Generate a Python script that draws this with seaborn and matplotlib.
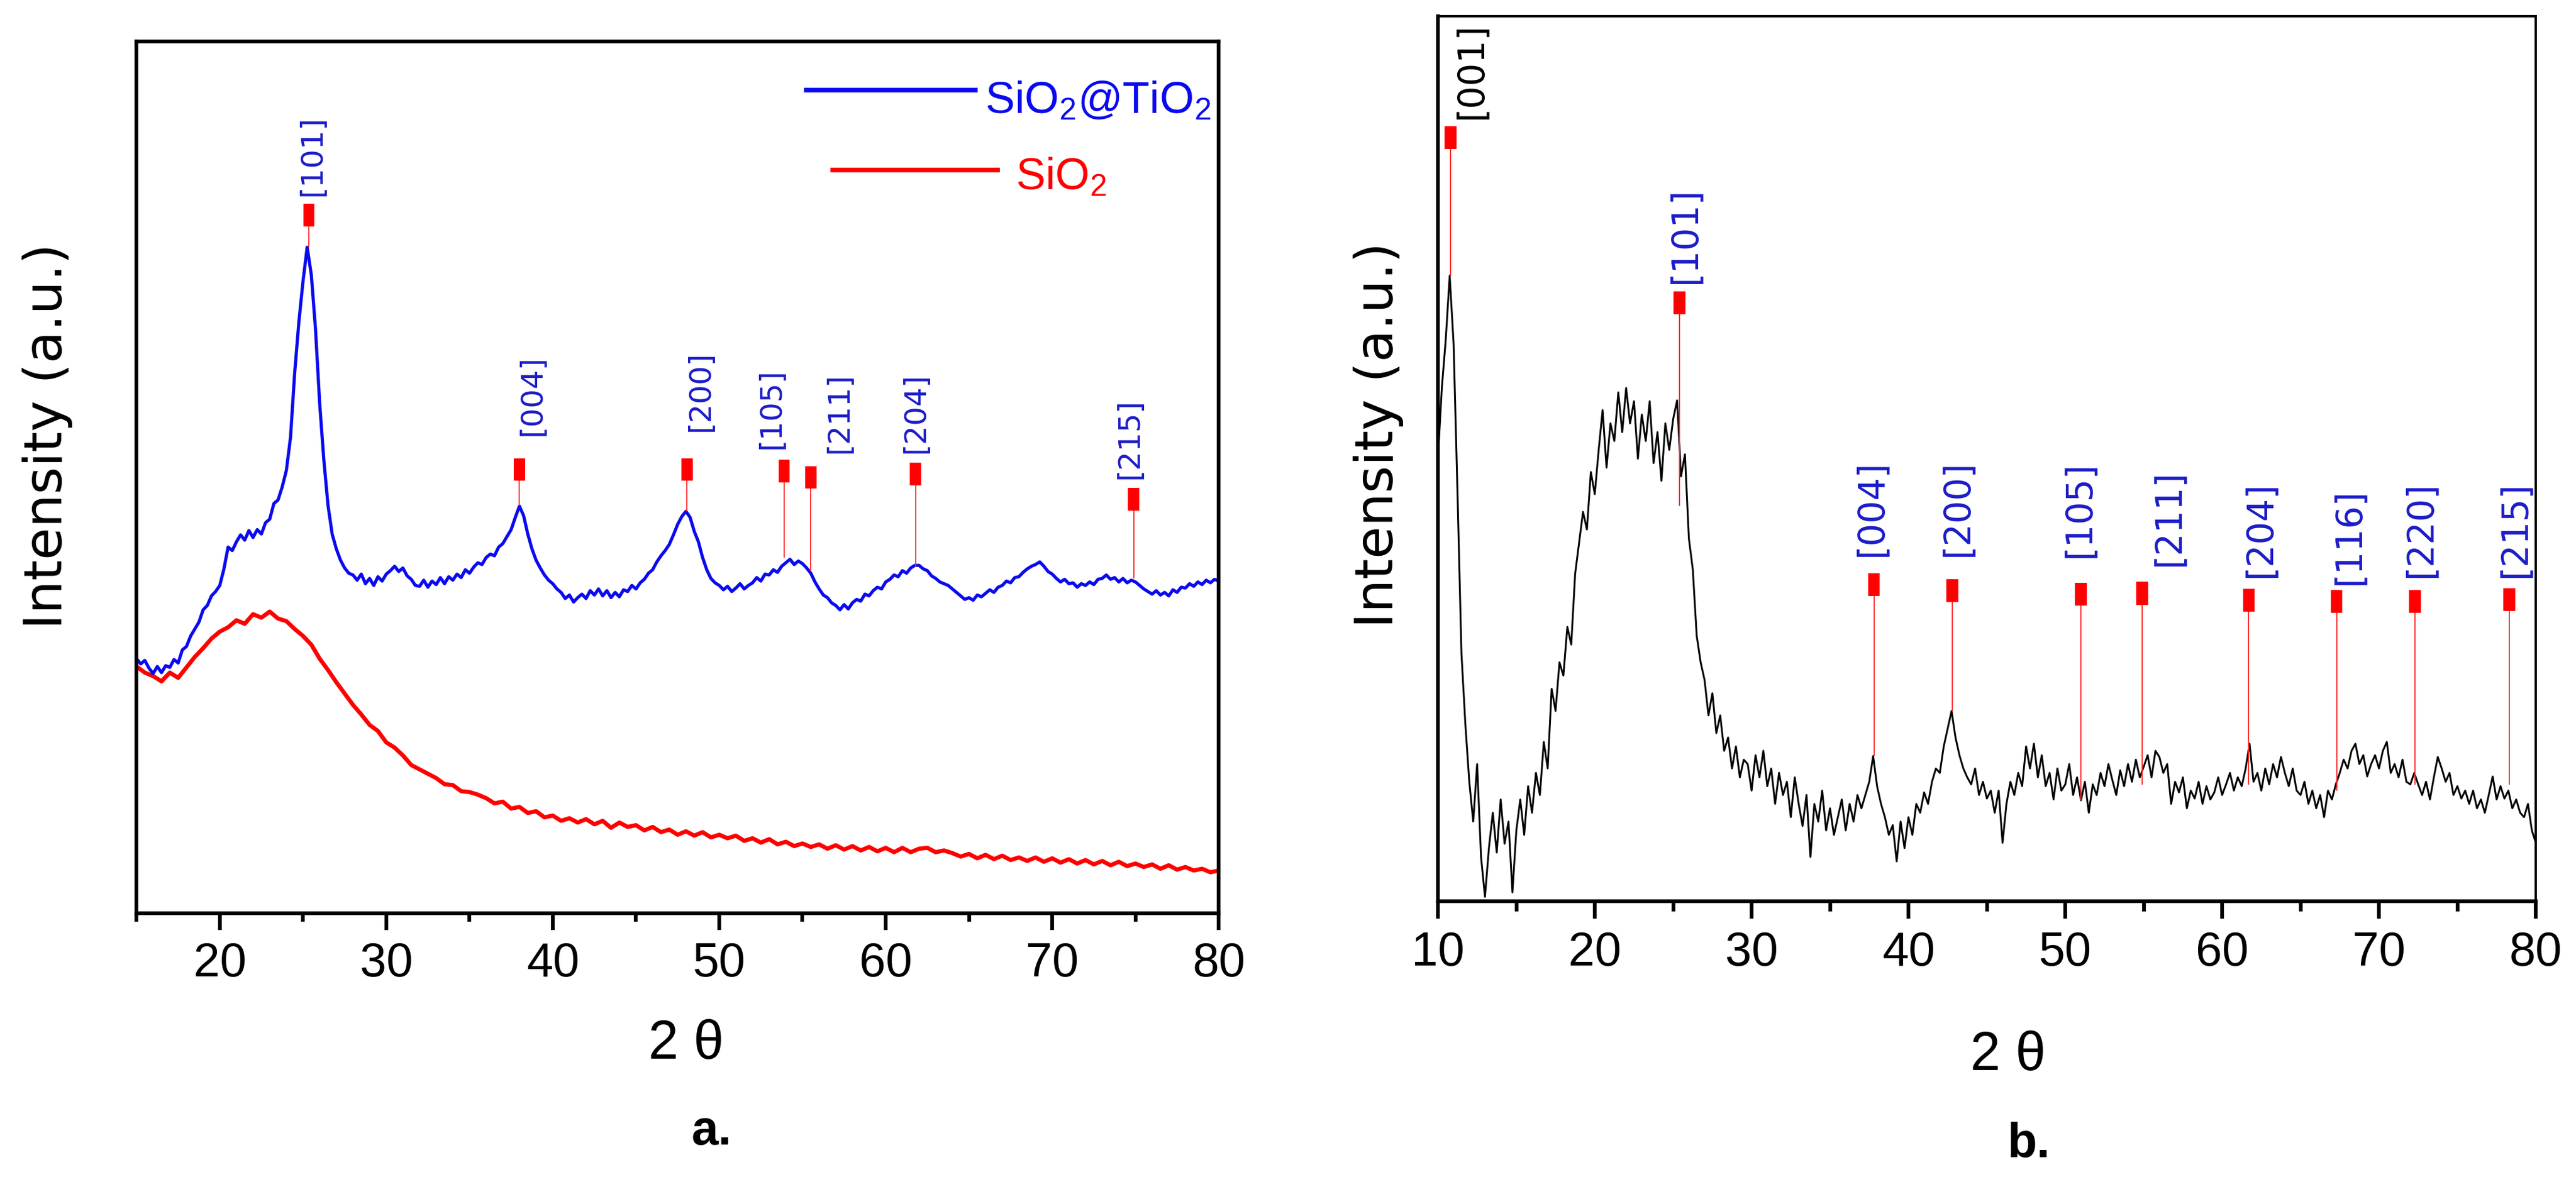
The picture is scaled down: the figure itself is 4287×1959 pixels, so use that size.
import numpy as np
import pandas as pd
import matplotlib
matplotlib.use("Agg")
import matplotlib.pyplot as plt
import seaborn as sns
from matplotlib.ticker import MultipleLocator

# ---------------- data ----------------
# panel a: SiO2@TiO2 (blue), 0.25 deg scan steps from 15 to 80
theta_blue = np.arange(15, 80.001, 0.25)
sio2_tio2 = [
    29.2, 28.6, 29.0, 28.1, 27.5, 28.3, 27.6, 28.4, 28.2, 29.1, 28.7, 30.2,
    30.6, 31.8, 32.6, 33.4, 34.8, 35.3, 36.4, 36.9, 37.6, 39.5, 42.0, 41.6,
    42.6, 43.4, 42.8, 43.9, 43.1, 44.0, 43.5, 44.8, 45.2, 47.0, 47.4, 48.9,
    50.8, 54.6, 62.0, 67.8, 72.5, 76.4, 73.2, 67.0, 58.5, 52.0, 46.8, 43.5,
    41.8, 40.5, 39.6, 39.0, 38.8, 38.2, 38.9, 37.8, 38.4, 37.6, 38.6, 38.1,
    38.9, 39.3, 39.8, 39.2, 39.6, 38.7, 38.3, 37.6, 37.5, 38.2, 37.4, 38.1,
    37.7, 38.5, 37.8, 38.6, 38.2, 38.9, 38.5, 39.4, 39.0, 39.7, 40.2, 40.0,
    40.8, 41.2, 41.0, 42.0, 42.4, 43.2, 44.0, 45.4, 46.7, 45.6, 43.5, 41.8,
    40.5, 39.6, 38.8, 38.2, 37.8, 37.2, 36.8, 36.1, 36.5, 35.7, 36.2, 36.6,
    36.1, 37.0, 36.5, 37.2, 36.4, 37.0, 36.2, 36.8, 36.3, 37.1, 36.9, 37.6,
    37.2, 37.9, 38.3, 39.0, 39.4, 40.3, 41.0, 41.6, 42.3, 43.4, 44.6, 45.5,
    46.1, 45.4, 43.8, 42.6, 40.8, 39.4, 38.4, 37.9, 37.6, 37.1, 37.5, 36.9,
    37.3, 37.8, 37.2, 37.6, 37.9, 38.5, 38.1, 38.9, 38.8, 39.4, 39.1, 39.8,
    40.2, 40.6, 40.0, 40.4, 40.1, 39.6, 39.0, 38.0, 37.2, 36.5, 36.2, 35.6,
    35.3, 34.8, 35.4, 34.9, 35.6, 36.0, 35.8, 36.6, 36.4, 37.0, 37.4, 37.2,
    38.0, 38.3, 38.8, 38.6, 39.3, 39.0, 39.6, 39.9, 39.9, 39.5, 39.3, 38.7,
    38.4, 38.0, 37.8, 37.6, 37.2, 36.8, 36.4, 36.0, 36.2, 35.9, 36.5, 36.3,
    36.7, 37.1, 36.8, 37.4, 37.6, 38.1, 37.9, 38.5, 38.6, 39.1, 39.5, 39.8,
    40.0, 40.3, 39.8, 39.2, 38.9, 38.4, 38.0, 38.3, 37.8, 37.9, 37.4, 37.8,
    37.6, 38.0, 37.7, 38.3, 38.4, 38.8, 38.3, 38.5, 38.0, 38.4, 37.9, 38.2,
    38.0, 37.6, 37.2, 36.9, 36.6, 37.0, 36.5, 36.8, 36.4, 37.1, 36.8, 37.4,
    37.3, 37.8, 37.5, 38.0, 37.7, 38.2, 37.9, 38.3, 38.1,
]

# panel a: SiO2 (red), 0.5 deg steps
theta_red = np.arange(15, 80.001, 0.5)
sio2 = [
    28.3, 27.6, 27.2, 26.6, 27.6, 27.0, 28.2, 29.4, 30.4, 31.5, 32.3, 32.8,
    33.6, 33.2, 34.3, 33.9, 34.6, 33.8, 33.5, 32.6, 31.8, 30.8, 29.2, 27.9,
    26.5, 25.2, 23.9, 22.8, 21.6, 20.9, 19.6, 19.0, 18.1, 17.0, 16.5, 16.0,
    15.5, 14.8, 14.7, 14.0, 13.9, 13.6, 13.2, 12.6, 12.8, 12.0, 12.2, 11.5,
    11.7, 11.0, 11.2, 10.6, 10.9, 10.4, 10.8, 10.2, 10.6, 9.8, 10.4, 9.9,
    10.1, 9.5, 9.9, 9.3, 9.6, 9.0, 9.4, 8.9, 9.3, 8.7, 9.0, 8.6,
    8.9, 8.3, 8.6, 8.1, 8.5, 7.9, 8.2, 7.7, 8.0, 7.6, 7.9, 7.4,
    7.8, 7.3, 7.7, 7.2, 7.6, 7.1, 7.5, 7.0, 7.5, 7.0, 7.4, 7.5,
    7.0, 7.2, 6.9, 6.5, 6.8, 6.3, 6.7, 6.2, 6.6, 6.1, 6.4, 6.0,
    6.4, 5.9, 6.3, 5.8, 6.2, 5.7, 6.1, 5.6, 6.0, 5.5, 5.9, 5.4,
    5.7, 5.3, 5.6, 5.1, 5.5, 5.0, 5.3, 4.9, 5.1, 4.7, 4.9,
]

# panel b: sample (black), 0.25 deg steps from 10 to 80
theta_black = np.arange(10, 80.001, 0.25)
sample_b = [
    50.0, 58.0, 63.5, 70.7, 63.0, 46.0, 28.0, 20.0, 13.5, 9.0, 15.5, 5.0,
    0.5, 6.0, 10.0, 5.5, 11.5, 6.5, 9.0, 1.0, 8.0, 11.5, 7.5, 13.0,
    10.0, 14.5, 12.0, 18.0, 15.0, 24.0, 21.5, 27.0, 25.5, 31.0, 29.0, 37.0,
    40.5, 44.0, 42.0, 48.5, 46.0, 51.0, 55.5, 49.0, 54.0, 52.0, 57.5, 53.0,
    58.0, 54.0, 56.5, 50.0, 55.0, 52.0, 56.5, 49.5, 53.0, 47.5, 54.0, 51.0,
    54.5, 56.6, 48.0, 50.5, 41.0, 37.5, 30.0, 27.0, 25.0, 21.0, 23.5, 19.0,
    21.0, 17.0, 18.5, 15.0, 17.5, 14.0, 16.0, 15.5, 12.5, 16.5, 14.0, 17.0,
    13.0, 15.0, 11.0, 14.5, 12.0, 13.5, 9.5, 14.0, 11.0, 8.5, 12.0, 5.0,
    11.0, 9.0, 12.5, 8.0, 10.5, 7.5, 9.5, 11.5, 8.0, 11.0, 9.0, 12.0,
    10.5, 12.0, 13.5, 16.4, 13.0, 11.0, 9.5, 7.5, 8.6, 4.5, 9.0, 6.0,
    9.5, 7.5, 11.0, 10.0, 12.3, 11.0, 13.5, 15.0, 14.5, 17.5, 19.5, 21.5,
    18.5, 16.5, 15.0, 14.0, 13.2, 15.0, 12.0, 13.5, 11.6, 12.5, 10.0, 12.5,
    6.6, 11.0, 13.5, 12.0, 14.5, 13.0, 17.5, 15.0, 17.8, 14.0, 16.5, 13.0,
    14.5, 11.5, 15.0, 12.5, 13.2, 15.5, 12.0, 14.0, 11.4, 13.5, 10.0, 13.2,
    12.0, 14.5, 13.0, 15.5, 13.7, 12.0, 14.8, 13.0, 15.5, 13.5, 16.0, 14.0,
    15.2, 16.5, 14.0, 17.0, 16.3, 14.5, 15.5, 11.0, 13.5, 12.3, 14.0, 10.5,
    12.5, 11.6, 13.5, 11.0, 13.0, 11.5, 12.3, 14.0, 12.0, 13.2, 14.5, 12.5,
    14.0, 13.0, 15.0, 17.8, 13.5, 14.5, 12.5, 15.0, 13.2, 15.5, 14.0, 16.3,
    14.5, 13.0, 15.0, 12.5, 12.0, 13.5, 11.0, 12.5, 10.5, 12.0, 9.5, 12.5,
    11.5, 13.2, 14.5, 16.0, 15.0, 17.0, 17.8, 15.5, 16.5, 14.1, 15.5, 16.5,
    15.0, 17.0, 18.0, 14.5, 15.5, 14.0, 16.0, 13.5, 13.2, 14.5, 13.2, 12.0,
    13.5, 11.5, 14.0, 16.3, 15.0, 13.5, 14.5, 12.0, 13.0, 11.6, 12.5, 11.0,
    12.5, 10.5, 11.5, 10.0, 12.0, 14.1, 11.5, 13.0, 11.6, 12.5, 10.5, 11.5,
    10.0, 9.5, 11.0, 8.0, 6.6,
]

# reflections, panel a
hkl_a = ["[101]", "[004]", "[200]", "[105]", "[211]", "[204]", "[215]"]
peak_a = [25.35, 38.0, 48.06, 53.9, 55.5, 61.8, 74.9]
stick_low_a = [76.4, 46.7, 46.1, 40.8, 39.3, 39.7, 38.4]
mark_top_a = [81.4, 52.2, 52.2, 52.0, 51.3, 51.7, 48.8]

# reflections, panel b
hkl_b = ["[001]", "[101]", "[004]", "[200]", "[105]", "[211]",
         "[204]", "[116]", "[220]", "[215]"]
peak_b = [10.8, 25.4, 37.8, 42.8, 51.0, 54.9, 61.7, 67.3, 72.3, 78.3]
stick_low_b = [70.7, 44.7, 16.4, 21.5, 11.4, 13.2, 13.2, 12.5, 13.2, 13.2]
mark_top_b = [87.6, 68.9, 37.1, 36.4, 36.0, 36.1, 35.3, 35.2, 35.2, 35.4]

# label placement (offset from stick in deg, bottom of text)
label_dx_a = [0.2, 0.75, 0.8, -0.75, 1.7, 0.0, -0.25]
label_y_a = [82.3, 54.8, 55.3, 53.3, 52.8, 52.8, 49.8]
label_dx_b = [1.34, 0.37, -0.16, 0.32, -0.1, 1.7, 0.75, 0.8, 0.37, 0.37]
label_y_b = [88.4, 69.8, 39.0, 39.0, 38.8, 37.9, 36.6, 35.8, 36.6, 36.6]

# ---------------- style ----------------
sns.set_theme(style="white")
plt.rcParams['font.family'] = ['Liberation Sans', 'DejaVu Sans']
plt.rcParams['mathtext.fontset'] = 'custom'
plt.rcParams['mathtext.rm'] = 'Liberation Sans'
plt.rcParams['mathtext.it'] = 'Liberation Sans:italic'
plt.rcParams['mathtext.bf'] = 'Liberation Sans:bold'
plt.rcParams['text.color'] = 'black'
plt.rcParams['axes.labelcolor'] = 'black'
plt.rcParams['xtick.color'] = 'black'
plt.rcParams['xtick.labelcolor'] = 'black'

BLUE = "#0a0af0"
LBLUE = "#1c1cc8"
RED = "#ff0000"

fig = plt.figure(figsize=(42.87, 19.59), dpi=100)
ax_a = fig.add_axes([0.0530, 0.2241, 0.4201, 0.7407])
ax_b = fig.add_axes([0.5582, 0.2343, 0.4262, 0.7519])

df_blue = pd.DataFrame({"two_theta": theta_blue, "I": sio2_tio2})
df_red = pd.DataFrame({"two_theta": theta_red, "I": sio2})
df_black = pd.DataFrame({"two_theta": theta_black, "I": sample_b})

sns.lineplot(data=df_red, x="two_theta", y="I", ax=ax_a, color=RED,
             lw=5.0, estimator=None, sort=False)
sns.lineplot(data=df_blue, x="two_theta", y="I", ax=ax_a, color=BLUE,
             lw=3.8, estimator=None, sort=False)
sns.lineplot(data=df_black, x="two_theta", y="I", ax=ax_b, color="black",
             lw=2.2, estimator=None, sort=False)


def draw_refs(ax, peaks, lows, tops, labels, dxs, ys, mark_w, fsize, colors):
    mark_h = 2.6
    bottoms = [t - mark_h for t in tops]
    ax.vlines(peaks, lows, bottoms, color="#ff3030", lw=1.4, zorder=3)
    ax.bar(peaks, [mark_h] * len(peaks), width=mark_w, bottom=bottoms,
           color=RED, linewidth=0, zorder=4)
    for p, lab, dx, y, c in zip(peaks, labels, dxs, ys, colors):
        ax.text(p + dx, y, lab, rotation=90, ha="center", va="bottom",
                fontsize=fsize, color=c, family="DejaVu Sans")


draw_refs(ax_a, peak_a, stick_low_a, mark_top_a, hkl_a, label_dx_a,
          label_y_a, 0.68, 36, [LBLUE] * len(hkl_a))
draw_refs(ax_b, peak_b, stick_low_b, mark_top_b, hkl_b, label_dx_b,
          label_y_b, 0.75, 43, ["black"] + [LBLUE] * (len(hkl_b) - 1))

# hand-made legend, panel a
ax_a.plot([0.617, 0.777], [0.944, 0.944], transform=ax_a.transAxes,
          color=BLUE, lw=5.5, solid_capstyle="butt")
ax_a.text(0.784, 0.918, "SiO$_2$@TiO$_2$", transform=ax_a.transAxes,
          color=BLUE, fontsize=53, va="baseline", ha="left")
ax_a.plot([0.641, 0.798], [0.8525, 0.8525], transform=ax_a.transAxes,
          color=RED, lw=5.5, solid_capstyle="butt")
ax_a.text(0.812, 0.830, "SiO$_2$", transform=ax_a.transAxes,
          color=RED, fontsize=53, va="baseline", ha="left")

# axes cosmetics
for ax, lo, maj_len, min_len in [(ax_a, 15, 20, 10), (ax_b, 10, 21, 12)]:
    ax.set_xlim(lo, 80)
    ax.set_ylim(0, 100)
    ax.set_yticks([])
    ax.xaxis.set_major_locator(MultipleLocator(10))
    ax.xaxis.set_minor_locator(MultipleLocator(5))
    ax.tick_params(axis="x", which="major", direction="out", length=maj_len,
                   width=4.5, labelsize=57, pad=14, color="black",
                   labelcolor="black", bottom=True)
    ax.tick_params(axis="x", which="minor", direction="out", length=min_len,
                   width=4.5, color="black", bottom=True)
    ax.set_ylabel("Intensity (a.u.)", fontsize=63, family="DejaVu Sans",
                  color="black")
    ax.set_xlabel("2 θ", fontsize=65, color="black")
    for s in ax.spines.values():
        s.set_color("black")
        s.set_linewidth(4.5)

ax_b.spines["top"].set_linewidth(2.8)
ax_b.spines["right"].set_linewidth(2.8)

ax_a.yaxis.set_label_coords(-0.059, 0.547)
ax_b.yaxis.set_label_coords(-0.031, 0.527)
ax_a.xaxis.set_label_coords(0.508, -0.121)
ax_b.xaxis.set_label_coords(0.519, -0.146)

fig.text(0.2762, 0.0275, "a.", ha="center", va="baseline", fontsize=58,
         fontweight="bold")
fig.text(0.7875, 0.0170, "b.", ha="center", va="baseline", fontsize=58,
         fontweight="bold")

fig.savefig("out.png", dpi=100, facecolor="white")
